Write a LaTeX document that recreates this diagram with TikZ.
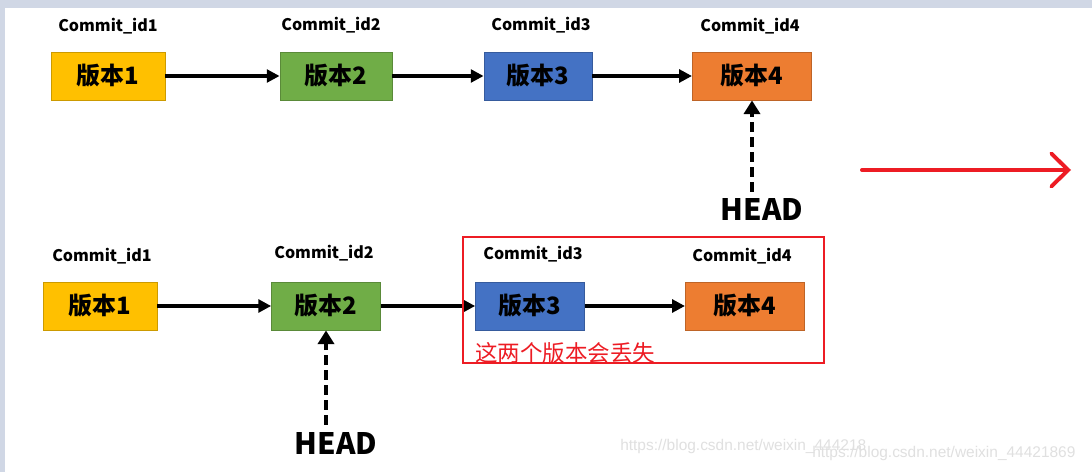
\documentclass[tikz,border=0pt]{standalone}
\usepackage{fontspec}
\setmainfont{Noto Sans CJK SC}
\newfontfamily\wmfont{Liberation Sans}
\usetikzlibrary{arrows.meta,positioning}
\definecolor{verYellow}{RGB}{255,192,0}
\definecolor{verGreen}{RGB}{112,173,71}
\definecolor{verBlue}{RGB}{68,114,196}
\definecolor{verOrange}{RGB}{237,125,49}
\definecolor{lostRed}{RGB}{237,28,36}
\definecolor{frameGray}{RGB}{208,215,229}
\tikzset{
  ver/.style={rectangle,draw=#1!80!black,line width=0.6pt,fill=#1,minimum width=2.8cm,
    minimum height=1.2cm,inner sep=0pt,font=\fontsize{17}{20}\selectfont\bfseries},
  cid/.style={font=\fontsize{11.4}{13}\selectfont\bfseries,inner sep=1pt},
  headlbl/.style={font=\fontsize{21}{24}\selectfont\bfseries,inner sep=5pt},
  arr/.style={-{Triangle[length=0.32cm,width=0.32cm]},line width=2.2pt},
  headarr/.style={-{Triangle[length=0.34cm,width=0.4cm]},line width=2.4pt,
    dash pattern=on 7pt off 3.6pt},
  lostframe/.style={draw=lostRed,line width=1.5pt},
  losttxt/.style={text=lostRed,font=\fontsize{16}{18}\selectfont,inner sep=0pt},
  redarr/.style={-{Straight Barb[length=0.42cm,width=0.82cm,line cap=round]},
    draw=lostRed,line width=2.8pt,line cap=round},
  wm/.style={text=black!12,font=\wmfont\fontsize{11}{13}\selectfont,inner sep=0pt}
}
\begin{document}
\begin{tikzpicture}[x=0.025cm,y=-0.025cm]
  % page and frame
  \fill[white] (0,0) rectangle (1092,472);
  \fill[frameGray] (0,0) rectangle (1092,8);
  \fill[frameGray] (0,0) rectangle (5,472);
  \useasboundingbox (0,0) rectangle (1092,472);

  % upper row
  \node[ver=verYellow,minimum width=2.85cm] (a1) at (108,76) {版本1};
  \node[ver=verGreen] (a2) at (336,76) {版本2};
  \node[ver=verBlue,minimum width=2.7cm] (a3) at (538,76) {版本3};
  \node[ver=verOrange,minimum width=2.98cm] (a4) at (752,76) {版本4};
  \node[cid] (ca1) at (108,26) {Commit\_id1};
  \node[cid] (ca2) at (331,25) {Commit\_id2};
  \node[cid] (ca3) at (541,25) {Commit\_id3};
  \node[cid] (ca4) at (750,26) {Commit\_id4};
  \draw[arr] (a1) -- (a2);
  \draw[arr] (a2) -- (a3);
  \draw[arr] (a3) -- (a4);
  \node[headlbl] (h1) at (762,210) {HEAD};
  \draw[headarr] (h1.north -| a4.south) -- (a4.south);

  % red arrow
  \coordinate (ra) at (862,170);
  \coordinate (rb) at (1071,170);
  \draw[redarr] (ra) -- (rb);

  % lower row
  \node[ver=verYellow,minimum width=2.85cm] (b1) at (100,306) {版本1};
  \node[ver=verGreen,minimum width=2.72cm] (b2) at (326,306) {版本2};
  \node[ver=verBlue,minimum width=2.72cm] (b3) at (530,306) {版本3};
  \node[ver=verOrange,minimum width=2.98cm] (b4) at (745,306) {版本4};
  \node[cid] (cb1) at (102,256) {Commit\_id1};
  \node[cid] (cb2) at (324,253) {Commit\_id2};
  \node[cid] (cb3) at (533,254) {Commit\_id3};
  \node[cid] (cb4) at (742,256) {Commit\_id4};
  \draw[arr] (b1) -- (b2);
  \draw[arr] (b2) -- (b3);
  \draw[arr] (b3) -- (b4);
  \node[headlbl] (h2) at (336,443) {HEAD};
  \draw[headarr] (h2.north -| b2.south) -- (b2.south);

  % lost versions
  \draw[lostframe] (463,237) rectangle (824,363);
  \node[losttxt,anchor=west] (lost) at (475,353) {这两个版本会丢失};

  % watermark
  \node[wm,anchor=west] (wm1) at (620,446) {https://blog.csdn.net/weixin\_444218};
  \node[wm,anchor=west] (wm2) at (812,453) {https://blog.csdn.net/weixin\_44421869};
\end{tikzpicture}
\end{document}
